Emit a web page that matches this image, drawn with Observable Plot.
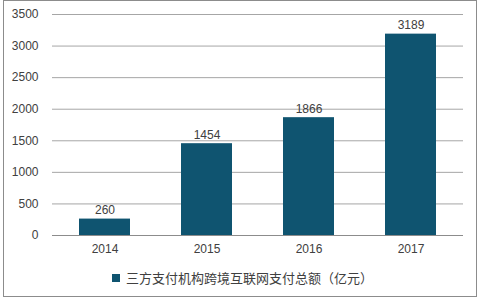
<!DOCTYPE html>
<html><head><meta charset="utf-8">
<script src="https://cdn.jsdelivr.net/npm/d3@7"></script>
<script src="https://cdn.jsdelivr.net/npm/@observablehq/plot@0.6"></script>
<style>
body{margin:0;background:#fff;font-family:"Liberation Sans",Arial,sans-serif;}
#wrap{position:relative;width:480px;height:300px;}
#frame{position:absolute;left:3px;top:0;width:472px;height:295px;border:1px solid #8c8c8c;box-sizing:content-box;}
#chart{position:absolute;left:0;top:0;}
#legend{position:absolute;left:112px;top:268px;font:13px "Noto Sans CJK SC",sans-serif;color:#404040;display:flex;align-items:center;white-space:nowrap;}
#legend span.sw{display:inline-block;width:8px;height:8px;background:#0f5470;margin-right:6px;}
</style></head><body>
<div id="wrap"><div id="frame"></div><div id="chart"></div>
<div id="legend"><span class="sw"></span><span id="ltxt"></span></div></div>
<script>
const years = ["2014","2015","2016","2017"];
const values = [260,1454,1866,3189];
const yTicks = [0,500,1000,1500,2000,2500,3000,3500];
const seriesName = "三方支付机构跨境互联网支付总额（亿元）";
const data = years.map((y,i)=>({year:y,value:values[i]}));
document.getElementById("ltxt").textContent = seriesName;
const chart = Plot.plot({
  width:480,height:260,
  marginLeft:52,marginRight:17,marginTop:14,marginBottom:25,
  style:{fontFamily:"'Liberation Sans',Arial,sans-serif",fontSize:"12px",color:"#404040",background:"transparent"},
  x:{domain:years,paddingInner:0.5,paddingOuter:0.25,label:null,tickSize:0,tickPadding:9},
  y:{domain:[0,3500],ticks:yTicks,tickFormat:d=>String(d),label:null,tickSize:0,tickPadding:14},
  marks:[
    Plot.ruleY(yTicks,{stroke:"#a6a6a6",strokeWidth:1}),
    Plot.barY(data,{x:"year",y:"value",fill:"#0f5470",inset:0}),
    Plot.text(data,{x:"year",y:"value",text:d=>String(d.value),lineAnchor:"bottom",dy:-5,fill:"#404040",fontSize:12}),
    Plot.ruleY([0],{stroke:"#8c8c8c"})
  ]
});
document.getElementById("chart").appendChild(chart);
</script></body></html>
